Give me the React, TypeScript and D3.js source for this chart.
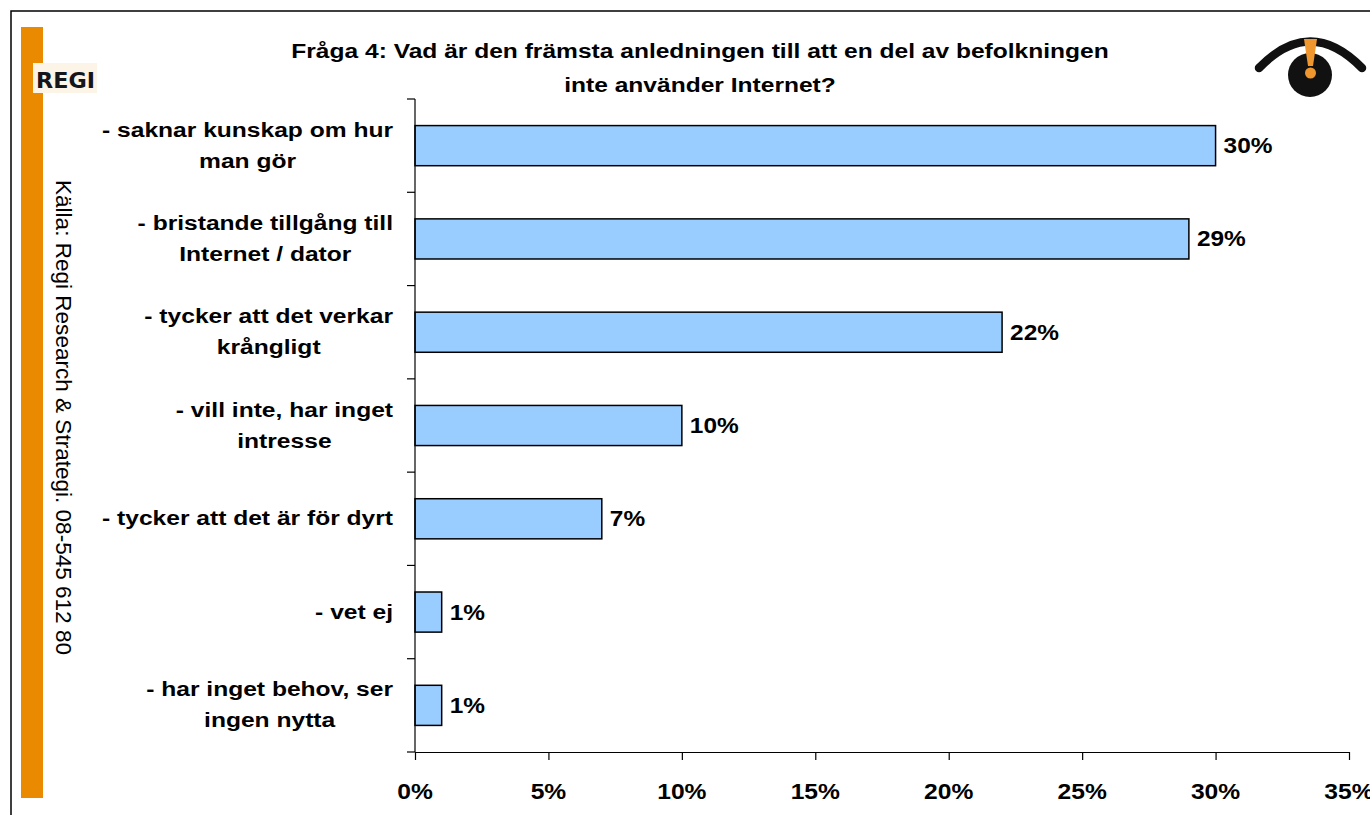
import React, { useEffect, useRef } from "react";
import * as d3 from "d3";

const categories = [
    "- saknar kunskap om hur\nman gör",
    "- bristande tillgång till\nInternet / dator",
    "- tycker att det verkar\nkrångligt",
    "- vill inte, har inget\nintresse",
    "- tycker att det är för dyrt",
    "- vet ej",
    "- har inget behov, ser\ningen nytta",
];
const values = [30, 29, 22, 10, 7, 1, 1];
const xTicks = [0, 5, 10, 15, 20, 25, 30, 35];
const titleLines = [
    "Fråga 4: Vad är den främsta anledningen till att en del av befolkningen",
    "inte använder Internet?",
];
const sourceText = "Källa: Regi Research & Strategi. 08-545 612 80";

const W = 1370;
const H = 815;
const FONT = "'Liberation Sans', Arial, sans-serif";
const barColor = "#99CCFF";
const orange = "#EA8A00";

const App: React.FC = () => {
    const svgRef = useRef<SVGSVGElement | null>(null);

    useEffect(() => {
        const svg = d3.select(svgRef.current);
        svg.selectAll("*").remove();

        const x = d3.scaleLinear().domain([0, 35]).range([415, 1349]);
        const y = d3.scaleBand<string>()
            .domain(categories)
            .range([99, 752])
            .paddingInner(0.57)
            .paddingOuter(0.285);

        // bold text, stretched sideways like the picture
        const label = (parent: any, tx: number, ty: number, str: string, anchor: string, size: number, sx: number) => {
            const g = parent.append("g").attr("transform", `translate(${tx},${ty}) scale(${sx},1)`);
            return g.append("text")
                .attr("text-anchor", anchor)
                .style("font-family", FONT)
                .style("font-weight", "bold")
                .style("font-size", `${size}px`)
                .attr("fill", "#000")
                .text(str);
        };

        // frame and orange stripe
        svg.append("rect").attr("x", 11).attr("y", 11).attr("width", W).attr("height", H)
            .attr("fill", "none").attr("stroke", "#000").attr("stroke-width", 1.5);
        svg.append("rect").attr("x", 21).attr("y", 27).attr("width", 22).attr("height", 771).attr("fill", orange);

        // REGI logo
        svg.append("rect").attr("x", 33).attr("y", 63).attr("width", 64).attr("height", 30).attr("fill", "#fdf4e8");
        svg.append("text").attr("x", 36).attr("y", 88)
            .attr("textLength", 59).attr("lengthAdjust", "spacingAndGlyphs")
            .style("font-family", "'DejaVu Sans', sans-serif").style("font-weight", "bold").style("font-size", "21px")
            .attr("fill", "#15151c").text("REGI");

        // source, rotated
        svg.append("text")
            .attr("transform", "translate(56,180) rotate(90) scale(1,1.12)")
            .attr("textLength", 475).attr("lengthAdjust", "spacingAndGlyphs")
            .style("font-family", FONT).style("font-size", "20px").attr("fill", "#000")
            .text(sourceText);

        // title
        titleLines.forEach((t, i) => label(svg, 700, 58 + i * 33.5, t, "middle", 21, 1.17));

        // eye icon
        const eye = svg.append("g");
        eye.append("path").attr("d", "M1259,68 Q1310,15 1362,68")
            .attr("fill", "none").attr("stroke", "#111").attr("stroke-width", 8.5).attr("stroke-linecap", "round");
        eye.append("circle").attr("cx", 1310).attr("cy", 75).attr("r", 22).attr("fill", "#111");
        eye.append("path").attr("d", "M1304,39 L1317,39 L1313,66 L1308,66 Z").attr("fill", "#F0962E");
        eye.append("circle").attr("cx", 1310.5).attr("cy", 73).attr("r", 5.5).attr("fill", "#F0962E");

        // bars
        svg.append("g").selectAll("rect")
            .data(values)
            .join("rect")
            .attr("x", x(0))
            .attr("y", (_, i) => y(categories[i])!)
            .attr("width", (d) => x(d) - x(0))
            .attr("height", y.bandwidth())
            .attr("fill", barColor)
            .attr("stroke", "#000")
            .attr("stroke-width", 1.5);

        // value labels
        values.forEach((v, i) => {
            const c = y(categories[i])! + y.bandwidth() / 2;
            label(svg, x(v) + 8, c + 7.5, `${v}%`, "start", 22, 1.11);
        });

        // y axis: line and ticks at the category borders
        const gap = (y.step() - y.bandwidth()) / 2;
        const yAxis = svg.append("g").attr("stroke", "#000").attr("stroke-width", 1.2);
        yAxis.append("line").attr("x1", x(0)).attr("x2", x(0)).attr("y1", y.range()[0]).attr("y2", y.range()[1]);
        d3.range(categories.length + 1).forEach((i) => {
            const yy = i < categories.length ? y(categories[i])! - gap : y.range()[1];
            yAxis.append("line").attr("x1", x(0) - 8).attr("x2", x(0)).attr("y1", yy).attr("y2", yy);
        });

        // x axis
        const xAxis = svg.append("g").attr("transform", `translate(0,${y.range()[1]})`)
            .call(d3.axisBottom(x).tickValues(xTicks).tickSizeInner(8).tickSizeOuter(0).tickFormat(() => ""));
        xAxis.selectAll("path, line").attr("stroke", "#000").attr("stroke-width", 1.2);
        xTicks.forEach((t) => label(svg, x(t), 799, `${t}%`, "middle", 22, 1.12));

        // category labels: block right-aligned, lines centred inside it
        const catSize = 20.5;
        const catSX = 1.2;
        categories.forEach((cat) => {
            const lines = cat.split("\n");
            const c = y(cat)! + y.bandwidth() / 2;
            const lineY = (j: number) => c + (j - (lines.length - 1) / 2) * 31 + 6.5;
            const texts = lines.map((ln, j) => label(svg, 0, lineY(j), ln, "middle", catSize, catSX));
            const maxW = d3.max(texts, (t: any) => (t.node() as SVGTextElement).getComputedTextLength())! * catSX;
            const cx = 393 - maxW / 2;
            texts.forEach((t: any, j: number) => {
                d3.select(t.node().parentNode).attr("transform", `translate(${cx},${lineY(j)}) scale(${catSX},1)`);
            });
        });
    }, []);

    return (
        <div>
            <svg ref={svgRef} width={W} height={H}
                style={{ position: "absolute", left: 0, top: 0, background: "#fff" }} />
        </div>
    );
};

export default App;
